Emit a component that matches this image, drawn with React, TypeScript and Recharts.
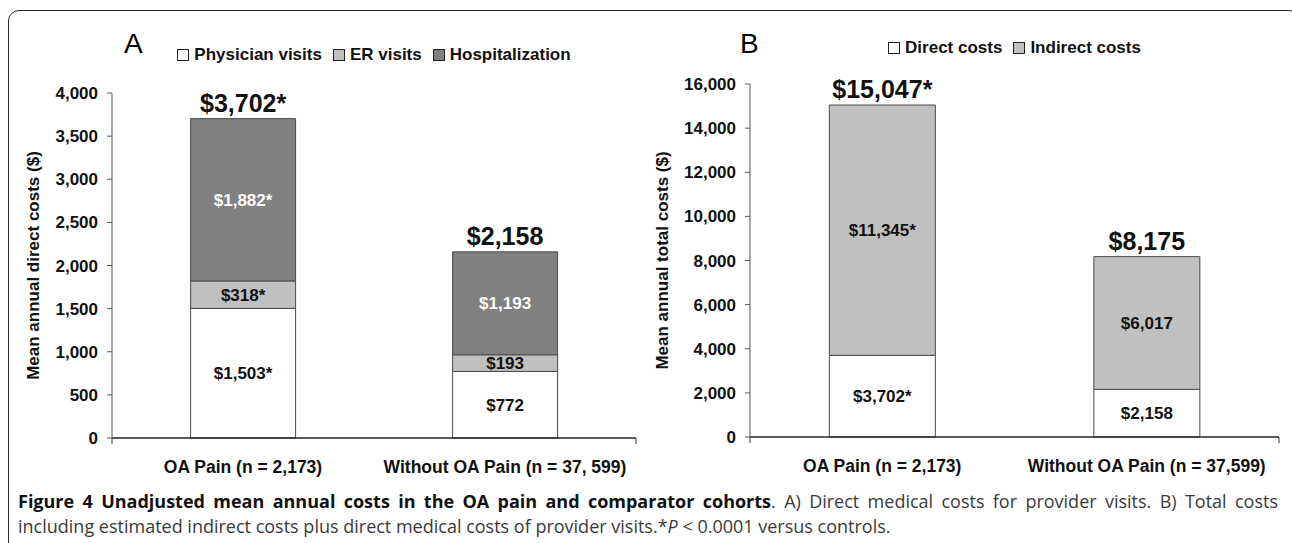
import {
    Bar,
    BarChart,
    Label,
    LabelList,
    Legend,
    XAxis,
    YAxis,
} from "recharts";

// panel A: direct medical costs
const groupsA = ["OA Pain (n = 2,173)", "Without OA Pain (n = 37, 599)"];
const physicianVisits = [1503, 772];
const erVisits = [318, 193];
const hospitalization = [1882, 1193];
const directTotals = [3702, 2158];

// panel B: total costs
const groupsB = ["OA Pain (n = 2,173)", "Without OA Pain (n = 37,599)"];
const directCosts = [3702, 2158];
const indirectCosts = [11345, 6017];
const totalCosts = [15047, 8175];

// * = P < 0.0001 vs controls
const significant = [true, false];

const ticksA = [0, 500, 1000, 1500, 2000, 2500, 3000, 3500, 4000];
const ticksB = [0, 2000, 4000, 6000, 8000, 10000, 12000, 14000, 16000];
// category boundaries (Excel puts x ticks between the groups)
const edgeTicks = [0, 1, 2];

const legendOrderA = ["Physician visits", "ER visits", "Hospitalization"];
const legendOrderB = ["Direct costs", "Indirect costs"];

const money = (v: number, star: boolean) =>
    "$" + v.toLocaleString("en-US") + (star ? "*" : "");

const dataA = groupsA.map((g, i) => ({
    group: g,
    physician: physicianVisits[i],
    er: erVisits[i],
    hosp: hospitalization[i],
    physicianLabel: money(physicianVisits[i], significant[i]),
    erLabel: money(erVisits[i], significant[i]),
    hospLabel: money(hospitalization[i], significant[i]),
    totalLabel: money(directTotals[i], significant[i]),
}));

const dataB = groupsB.map((g, i) => ({
    group: g,
    direct: directCosts[i],
    indirect: indirectCosts[i],
    directLabel: money(directCosts[i], significant[i]),
    indirectLabel: money(indirectCosts[i], significant[i]),
    totalLabel: money(totalCosts[i], significant[i]),
}));

const FONT = "'Liberation Sans', Arial, Helvetica, sans-serif";
const WHITE = "#ffffff";
const LIGHT = "#c0c0c0";
const DARK = "#808080";
const OUTLINE = "#4a4a4a";

const axisTick = { fontSize: 17, fontWeight: 700, fill: "#111", fontFamily: FONT };
const catTick = { fontSize: 17.5, fontWeight: 700, fill: "#111", fontFamily: FONT };
const segLabel = { fontSize: 17, fontWeight: 700, fontFamily: FONT };

const noLabel = () => <g />;

function LegendBoxes({ payload, order }: any) {
    const items = [...(payload || [])].sort(
        (a: any, b: any) => order.indexOf(a.value) - order.indexOf(b.value)
    );
    return (
        <div
            style={{
                display: "flex",
                justifyContent: "center",
                fontFamily: FONT,
                fontWeight: 700,
                fontSize: 17,
                color: "#111",
                lineHeight: "20px",
            }}
        >
            {items.map((e: any, i: number) => (
                <span
                    key={i}
                    style={{ display: "flex", alignItems: "center", marginLeft: i ? 11 : 0 }}
                >
                    <span
                        style={{
                            width: 12,
                            height: 12,
                            boxSizing: "border-box",
                            border: "1px solid #222",
                            background: e.color,
                            marginRight: 5,
                            display: "inline-block",
                        }}
                    />
                    {e.value}
                </span>
            ))}
        </div>
    );
}

function yTitle(text: string, cx: number) {
    return ({ viewBox }: any) => {
        const cy = viewBox.y + viewBox.height / 2;
        return (
            <text
                x={cx}
                y={cy}
                transform={`rotate(-90, ${cx}, ${cy})`}
                textAnchor="middle"
                dominantBaseline="central"
                fontFamily={FONT}
                fontWeight={700}
                fontSize={17}
                fill="#111"
            >
                {text}
            </text>
        );
    };
}

function App() {
    return (
        <div
            style={{
                position: "absolute",
                left: 0,
                top: 0,
                width: 1292,
                height: 543,
                overflow: "hidden",
                background: "#fff",
            }}
        >
            <div
                style={{
                    position: "absolute",
                    left: 8,
                    top: 10,
                    width: 1290,
                    height: 600,
                    border: "1.5px solid #2b2b2b",
                    borderRadius: 11,
                }}
            />
            <div style={{ position: "absolute", left: 124, top: 30, fontFamily: FONT, fontSize: 28, lineHeight: 1 }}>
                A
            </div>
            <div style={{ position: "absolute", left: 740, top: 30, fontFamily: FONT, fontSize: 28, lineHeight: 1 }}>
                B
            </div>

            {/* panel A */}
            <div style={{ position: "absolute", left: 0, top: 0 }}>
                <BarChart
                    width={660}
                    height={500}
                    data={dataA}
                    barCategoryGap="30%"
                    margin={{ top: 93, right: 24, left: 52, bottom: 21 }}
                >
                    <XAxis
                        type="number"
                        domain={[0, 2]}
                        ticks={edgeTicks}
                        allowDataOverflow
                        height={1}
                        tick={noLabel}
                        tickSize={6}
                        axisLine={{ stroke: "#222", strokeWidth: 1.5 }}
                        tickLine={{ stroke: "#333" }}
                    />
                    <XAxis
                        xAxisId="cat"
                        dataKey="group"
                        height={40}
                        tickLine={false}
                        tickSize={6}
                        tickMargin={16}
                        axisLine={false}
                        tick={catTick}
                        interval={0}
                    />
                    <YAxis
                        width={60}
                        domain={[0, 4000]}
                        ticks={ticksA}
                        tickFormatter={(v: number) => v.toLocaleString("en-US")}
                        tick={axisTick}
                        tickSize={5}
                        tickMargin={9}
                        axisLine={{ stroke: "#555" }}
                        tickLine={{ stroke: "#555" }}
                    >
                        <Label content={yTitle("Mean annual direct costs ($)", 33)} />
                    </YAxis>
                    <Legend
                        layout="horizontal"
                        verticalAlign="middle"
                        align="center"
                        wrapperStyle={{ top: 45, left: 112, width: 524 }}
                        content={<LegendBoxes order={legendOrderA} />}
                    />
                    <Bar xAxisId="cat" dataKey="physician" name="Physician visits" stackId="a" fill={WHITE} stroke={OUTLINE} isAnimationActive={false}>
                        <LabelList dataKey="physicianLabel" position="center" fill="#111" style={segLabel} />
                    </Bar>
                    <Bar xAxisId="cat" dataKey="er" name="ER visits" stackId="a" fill={LIGHT} stroke={OUTLINE} isAnimationActive={false}>
                        <LabelList dataKey="erLabel" position="center" fill="#111" style={segLabel} />
                    </Bar>
                    <Bar xAxisId="cat" dataKey="hosp" name="Hospitalization" stackId="a" fill={DARK} stroke={OUTLINE} isAnimationActive={false}>
                        <LabelList dataKey="hospLabel" position="center" fill="#fff" style={segLabel} />
                        <LabelList
                            dataKey="totalLabel"
                            position="top"
                            offset={7}
                            fill="#111"
                            style={{ fontSize: 25, fontWeight: 700, fontFamily: FONT }}
                        />
                    </Bar>
                </BarChart>
            </div>

            {/* panel B */}
            <div style={{ position: "absolute", left: 640, top: 0 }}>
                <BarChart
                    width={660}
                    height={500}
                    data={dataB}
                    barCategoryGap="30%"
                    margin={{ top: 84, right: 21, left: 40, bottom: 22 }}
                >
                    <XAxis
                        type="number"
                        domain={[0, 2]}
                        ticks={edgeTicks}
                        allowDataOverflow
                        height={1}
                        tick={noLabel}
                        tickSize={6}
                        axisLine={{ stroke: "#222", strokeWidth: 1.5 }}
                        tickLine={{ stroke: "#333" }}
                    />
                    <XAxis
                        xAxisId="cat"
                        dataKey="group"
                        height={40}
                        tickLine={false}
                        tickSize={6}
                        tickMargin={16}
                        axisLine={false}
                        tick={catTick}
                        interval={0}
                    />
                    <YAxis
                        width={70}
                        domain={[0, 16000]}
                        ticks={ticksB}
                        tickFormatter={(v: number) => v.toLocaleString("en-US")}
                        tick={axisTick}
                        tickSize={5}
                        tickMargin={9}
                        axisLine={{ stroke: "#555" }}
                        tickLine={{ stroke: "#555" }}
                    >
                        <Label content={yTitle("Mean annual total costs ($)", 22)} />
                    </YAxis>
                    <Legend
                        layout="horizontal"
                        verticalAlign="middle"
                        align="center"
                        wrapperStyle={{ top: 38, left: 110, width: 529 }}
                        content={<LegendBoxes order={legendOrderB} />}
                    />
                    <Bar xAxisId="cat" dataKey="direct" name="Direct costs" stackId="b" fill={WHITE} stroke={OUTLINE} isAnimationActive={false}>
                        <LabelList dataKey="directLabel" position="center" fill="#111" style={segLabel} />
                    </Bar>
                    <Bar xAxisId="cat" dataKey="indirect" name="Indirect costs" stackId="b" fill={LIGHT} stroke={OUTLINE} isAnimationActive={false}>
                        <LabelList dataKey="indirectLabel" position="center" fill="#111" style={segLabel} />
                        <LabelList
                            dataKey="totalLabel"
                            position="top"
                            offset={7}
                            fill="#111"
                            style={{ fontSize: 25, fontWeight: 700, fontFamily: FONT }}
                        />
                    </Bar>
                </BarChart>
            </div>

            {/* caption */}
            <div
                style={{
                    position: "absolute",
                    left: 18,
                    top: 489,
                    width: 1260,
                    fontFamily: "'Open Sans', sans-serif",
                    fontSize: 18,
                    lineHeight: "25px",
                    color: "#3a3a3a",
                }}
            >
                <div style={{ textAlign: "justify", textAlignLast: "justify", whiteSpace: "nowrap" }}>
                    <b style={{ color: "#111" }}>
                        Figure 4 Unadjusted mean annual costs in the OA pain and comparator cohorts
                    </b>
                    . A) Direct medical costs for provider visits. B) Total costs
                </div>
                <div>
                    including estimated indirect costs plus direct medical costs of provider visits.*<i>P</i> &lt; 0.0001
                    versus controls.
                </div>
            </div>
        </div>
    );
}

export default App;
